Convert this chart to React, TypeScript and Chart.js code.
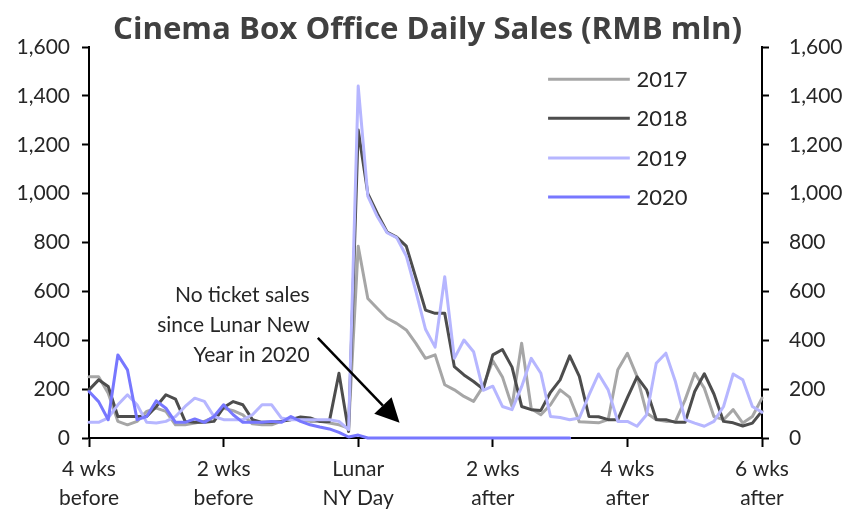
import React, { useEffect, useRef } from "react";
import { Chart, registerables } from "chart.js";

Chart.register(...registerables);

// ---------- data ----------
const days = [
  -28, -27, -26, -25, -24, -23, -22, -21, -20, -19, -18, -17, -16, -15,
  -14, -13, -12, -11, -10, -9, -8, -7, -6, -5, -4, -3, -2, -1,
  0, 1, 2, 3, 4, 5, 6, 7, 8, 9, 10, 11, 12, 13,
  14, 15, 16, 17, 18, 19, 20, 21, 22, 23, 24, 25, 26, 27,
  28, 29, 30, 31, 32, 33, 34, 35, 36, 37, 38, 39, 40, 41, 42,
];

const sales2017 = [
  251, 251, 183, 68, 54, 68, 109, 122, 109, 54, 54, 61, 68, 85,
  122, 112, 95, 58, 54, 54, 68, 82, 75, 68, 68, 61, 54, 41,
  785, 571, 530, 490, 469, 442, 387, 326, 340, 218, 197, 170, 150, 211,
  316, 250, 130, 388, 120, 95, 136, 197, 166, 66, 64, 62, 75, 279,
  347, 252, 102, 75, 68, 68, 156, 265, 204, 88, 75, 116, 61, 88, 163,
];

const sales2018 = [
  197, 238, 211, 88, 88, 88, 88, 129, 177, 159, 68, 64, 64, 68,
  125, 149, 136, 75, 64, 64, 68, 75, 86, 82, 68, 68, 265, 27,
  1260, 1000, 918, 843, 822, 785, 655, 523, 510, 510, 292, 258, 231, 200,
  340, 362, 290, 129, 116, 113, 187, 238, 336, 252, 88, 87, 75, 75,
  165, 250, 197, 76, 75, 64, 64, 190, 263, 180, 68, 62, 49, 61, 110,
];

const sales2019 = [
  64, 64, 82, 136, 177, 136, 64, 61, 68, 88, 129, 163, 150, 88,
  75, 75, 75, 95, 136, 136, 82, 75, 75, 75, 75, 75, 68, 34,
  1440, 990, 905, 840, 820, 745, 600, 445, 372, 660, 326, 401, 353, 195,
  212, 129, 116, 210, 326, 265, 88, 84, 75, 82, 175, 262, 197, 68,
  68, 48, 95, 306, 347, 230, 75, 61, 48, 68, 129, 262, 238, 129, 105,
];

const sales2020: (number | null)[] = [
  190, 149, 75, 340, 279, 75, 88, 152, 122, 64, 64, 78, 64, 88,
  136, 95, 64, 64, 64, 68, 64, 88, 68, 54, 45, 37, 23, 4,
  12, 0, 0, 0, 0, 0, 0, 0, 0, 0, 0, 0, 0, 0,
  0, 0, 0, 0, 0, 0, 0, 0, 0, null, null, null, null, null,
  null, null, null, null, null, null, null, null, null, null, null, null, null, null, null,
];

const seriesNames = ["2017", "2018", "2019", "2020"];
const seriesColors = ["#a6a6a6", "#4d4d4d", "#b6b6ff", "#7777ff"];

const xTickValues = [-28, -14, 0, 14, 28, 42];
const xTickLine1 = ["4 wks", "2 wks", "Lunar", "2 wks", "4 wks", "6 wks"];
const xTickLine2 = ["before", "before", "NY Day", "after", "after", "after"];
const yTickValues = [0, 200, 400, 600, 800, 1000, 1200, 1400, 1600];

const titleText = "Cinema Box Office Daily Sales (RMB mln)";
const noteLines = ["No ticket sales", "since Lunar New", "Year in 2020"];

// annotation / legend placement in data units
const NOTE_X = -5.05;
const NOTE_Y = [586, 463, 338];
const ARROW_FROM = [-4.2, 410];
const ARROW_TO = [4.3, 62];
const LEGEND_X0 = 19.75;
const LEGEND_X1 = 28.25;
const LEGEND_TX = 28.95;
const LEGEND_Y = [1468, 1308, 1146, 986];

const TICK_FONT = "Lato, 'Open Sans', sans-serif";
const TEXT_COLOR = "#262626";

const overlayPlugin = {
  id: "overlay",
  afterDatasetsDraw(chart: any) {
    const { ctx, scales } = chart;
    const xs = scales.x;
    const ys = scales.y;
    ctx.save();

    // title
    ctx.font = "bold 31px 'Open Sans', sans-serif";
    ctx.fillStyle = "#404040";
    ctx.textBaseline = "alphabetic";
    ctx.textAlign = "center";
    const tw = ctx.measureText(titleText).width;
    const targetW = 629;
    ctx.save();
    ctx.translate(427.5, 39);
    ctx.scale(targetW / tw, 1);
    ctx.fillText(titleText, 0, 0);
    ctx.restore();

    // note text
    ctx.font = `21px ${TICK_FONT}`;
    ctx.fillStyle = TEXT_COLOR;
    ctx.textAlign = "right";
    ctx.textBaseline = "middle";
    noteLines.forEach((t, i) => {
      ctx.fillText(t, xs.getPixelForValue(NOTE_X), ys.getPixelForValue(NOTE_Y[i]));
    });

    // arrow
    const x0 = xs.getPixelForValue(ARROW_FROM[0]);
    const y0 = ys.getPixelForValue(ARROW_FROM[1]);
    const x1 = xs.getPixelForValue(ARROW_TO[0]);
    const y1 = ys.getPixelForValue(ARROW_TO[1]);
    const ang = Math.atan2(y1 - y0, x1 - x0);
    const headLen = 24;
    const headW = 12;
    const bx = x1 - headLen * Math.cos(ang);
    const by = y1 - headLen * Math.sin(ang);
    ctx.strokeStyle = "#000";
    ctx.lineWidth = 2.5;
    ctx.beginPath();
    ctx.moveTo(x0, y0);
    ctx.lineTo(bx, by);
    ctx.stroke();
    ctx.fillStyle = "#000";
    ctx.beginPath();
    ctx.moveTo(x1, y1);
    ctx.lineTo(bx + headW * Math.sin(ang), by - headW * Math.cos(ang));
    ctx.lineTo(bx - headW * Math.sin(ang), by + headW * Math.cos(ang));
    ctx.closePath();
    ctx.fill();

    // legend
    ctx.font = `22px ${TICK_FONT}`;
    ctx.textAlign = "left";
    ctx.textBaseline = "middle";
    chart.data.datasets.forEach((ds: any, i: number) => {
      const y = ys.getPixelForValue(LEGEND_Y[i]);
      ctx.strokeStyle = ds.borderColor;
      ctx.lineWidth = 3;
      ctx.beginPath();
      ctx.moveTo(xs.getPixelForValue(LEGEND_X0), y);
      ctx.lineTo(xs.getPixelForValue(LEGEND_X1), y);
      ctx.stroke();
      ctx.fillStyle = TEXT_COLOR;
      ctx.fillText(ds.label, xs.getPixelForValue(LEGEND_TX), y + 1);
    });

    ctx.restore();
  },
};

export default function App() {
  const canvasRef = useRef<HTMLCanvasElement | null>(null);

  useEffect(() => {
    const canvas = canvasRef.current;
    if (!canvas) return;
    const allSeries = [sales2017, sales2018, sales2019, sales2020];
    const datasets = allSeries.map((s, i) => ({
      label: seriesNames[i],
      data: days.map((d, j) => ({ x: d, y: s[j] })),
      borderColor: seriesColors[i],
      backgroundColor: seriesColors[i],
      borderWidth: 3,
      borderJoinStyle: "round" as const,
      borderCapStyle: "round" as const,
      pointRadius: 0,
      tension: 0,
      spanGaps: false,
      clip: false as any,
      order: 4 - i,
    }));

    const yAxisCommon = {
      type: "linear" as const,
      min: 0,
      max: 1600,
      afterBuildTicks: (scale: any) => {
        scale.ticks = yTickValues.map((v) => ({ value: v }));
      },
      grid: {
        drawOnChartArea: false,
        drawTicks: true,
        tickLength: 7,
        tickWidth: 2,
        tickColor: "#000",
      },
      border: { display: true, color: "#000", width: 2 },
    };

    const chart = new Chart(canvas, {
      type: "line",
      data: { datasets },
      options: {
        animation: false,
        responsive: false,
        maintainAspectRatio: false,
        layout: { padding: { top: 47, left: 0, right: 0, bottom: 0 } },
        plugins: {
          legend: { display: false },
          title: { display: false },
          tooltip: { enabled: false },
        },
        scales: {
          x: {
            type: "linear",
            min: -28,
            max: 42,
            afterBuildTicks: (scale: any) => {
              scale.ticks = xTickValues.map((v) => ({ value: v }));
            },
            afterFit: (scale: any) => {
              scale.height = 71;
            },
            ticks: {
              autoSkip: false,
              maxRotation: 0,
              minRotation: 0,
              padding: 8,
              color: TEXT_COLOR,
              font: { family: TICK_FONT, size: 21, lineHeight: 1.38 },
              callback: (v: any) => {
                const i = xTickValues.indexOf(Number(v));
                return i >= 0 ? [xTickLine1[i], xTickLine2[i]] : "";
              },
            },
            grid: {
              drawOnChartArea: false,
              drawTicks: true,
              tickLength: 9,
              tickWidth: 2,
              tickColor: "#000",
            },
            border: { display: true, color: "#000", width: 2 },
          },
          y: {
            ...yAxisCommon,
            position: "left",
            afterFit: (scale: any) => {
              scale.width = 89;
            },
            ticks: {
              padding: 12,
              color: TEXT_COLOR,
              font: { family: TICK_FONT, size: 21 },
              callback: (v: any) => Number(v).toLocaleString("en-US"),
            },
          },
          y1: {
            ...yAxisCommon,
            position: "right",
            afterFit: (scale: any) => {
              scale.width = 89;
            },
            ticks: {
              padding: 20,
              color: TEXT_COLOR,
              font: { family: TICK_FONT, size: 21 },
              callback: (v: any) => Number(v).toLocaleString("en-US"),
            },
          },
        },
      },
      plugins: [overlayPlugin],
    });

    return () => chart.destroy();
  }, []);

  return (
    <div style={{ position: "absolute", left: 0, top: 0, width: 851, height: 509, background: "#fff" }}>
      <canvas ref={canvasRef} width={851} height={509} style={{ display: "block" }} />
    </div>
  );
}
